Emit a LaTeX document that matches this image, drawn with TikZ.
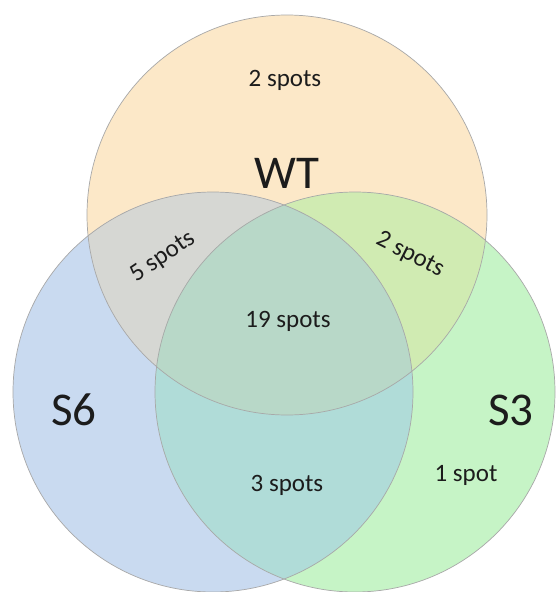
\documentclass[tikz,border=0pt]{standalone}
\usepackage{fontspec}
\setmainfont{Carlito}
% region colours of the three-set diagram
\definecolor{wtonly}{HTML}{FCE8C8}
\definecolor{sixonly}{HTML}{C9DAF0}
\definecolor{threeonly}{HTML}{C6F4C6}
\definecolor{wtsix}{HTML}{D6D7D3}
\definecolor{wtthree}{HTML}{D0EBB2}
\definecolor{sixthree}{HTML}{B0DCD8}
\definecolor{allthree}{HTML}{B8D8C8}
\definecolor{rim}{HTML}{A8A8A8}
\definecolor{txt}{HTML}{1C1C1C}
\begin{document}
\begin{tikzpicture}[x=1pt,y=-1pt,
  lbl/.style={font=\fontsize{25}{30}\selectfont,text=txt,inner sep=0pt},
  setname/.style={font=\fontsize{47}{56}\selectfont,text=txt,inner sep=0pt},
  rimline/.style={draw=rim,line width=0.7pt}]
\useasboundingbox (0,0) rectangle (556,592);
\fill[white] (0,0) rectangle (556,592);
\coordinate (cWT) at (287,215);
\coordinate (cS6) at (213,392);
\coordinate (cS3) at (355,392);
\def\rad{200}
% single-set areas
\fill[wtonly] (cWT) circle[radius=\rad];
\fill[sixonly] (cS6) circle[radius=\rad];
\fill[threeonly] (cS3) circle[radius=\rad];
% pairwise overlaps
\begin{scope}
  \clip (cWT) circle[radius=\rad];
  \fill[wtsix] (cS6) circle[radius=\rad];
\end{scope}
\begin{scope}
  \clip (cWT) circle[radius=\rad];
  \fill[wtthree] (cS3) circle[radius=\rad];
\end{scope}
\begin{scope}
  \clip (cS6) circle[radius=\rad];
  \fill[sixthree] (cS3) circle[radius=\rad];
\end{scope}
% common core
\begin{scope}
  \clip (cWT) circle[radius=\rad];
  \clip (cS6) circle[radius=\rad];
  \fill[allthree] (cS3) circle[radius=\rad];
\end{scope}
% outlines
\draw[rimline] (cWT) circle[radius=\rad];
\draw[rimline] (cS6) circle[radius=\rad];
\draw[rimline] (cS3) circle[radius=\rad];
% labels
\node[lbl] (wtcount) at (285,80) {2 spots};
\node[setname] (wtname) at (287,173) {WT};
\node[lbl,rotate=34] (wtsixcount) at (163,257) {5 spots};
\node[lbl,rotate=-27] (wtthreecount) at (410,255) {2 spots};
\node[lbl] (allcount) at (288,321) {19 spots};
\node[setname] (sixname) at (74,410) {S6};
\node[setname] (threename) at (511,410) {S3};
\node[lbl] (sixthreecount) at (287,485) {3 spots};
\node[lbl] (threecount) at (466,475) {1 spot};
\end{tikzpicture}
\end{document}
